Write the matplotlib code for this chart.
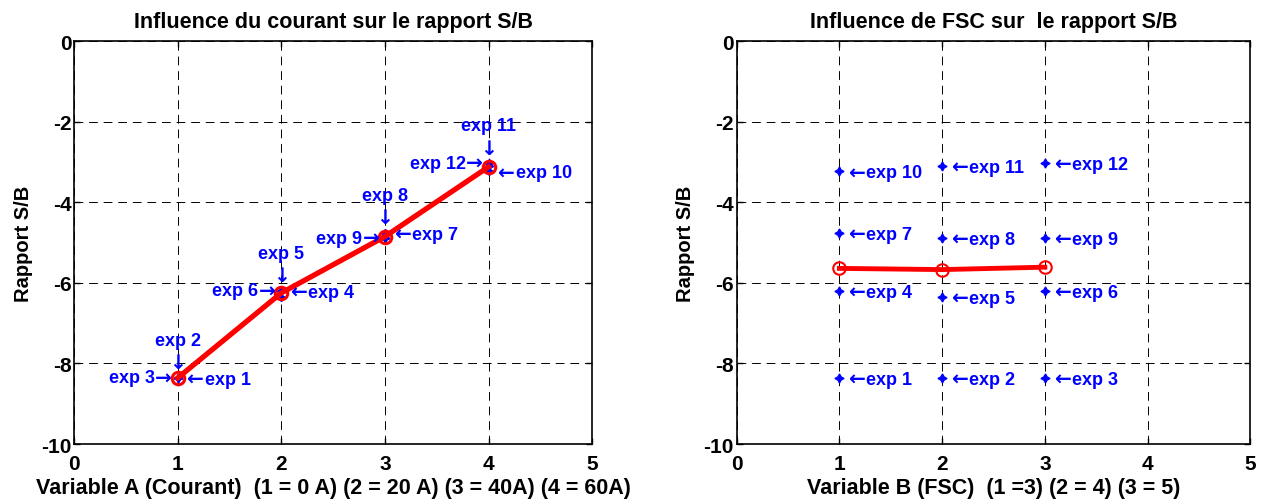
import numpy as np
import matplotlib
matplotlib.use("Agg")
import matplotlib.pyplot as plt

plt.rcParams["axes.unicode_minus"] = False

# --- data ---
exp_names = ["exp %d" % i for i in range(1, 13)]
# variable A level of each experiment (left plot)
a_level = [1, 1, 1, 2, 2, 2, 3, 3, 3, 4, 4, 4]
# variable B level of each experiment (right plot)
b_level = [1, 2, 3, 1, 2, 3, 1, 2, 3, 1, 2, 3]
sb_values = [-8.36, -8.36, -8.36, -6.20, -6.35, -6.20,
             -4.76, -4.89, -4.89, -3.23, -3.10, -3.03]

a_levels = [1, 2, 3, 4]
a_means = [-8.36, -6.25, -4.85, -3.12]
b_levels = [1, 2, 3]
b_means = [-5.64, -5.67, -5.61]

title_a = "Influence du courant sur le rapport S/B"
title_b = "Influence de FSC sur  le rapport S/B"
xlabel_a = "Variable A (Courant)  (1 = 0 A) (2 = 20 A) (3 = 40A) (4 = 60A)"
xlabel_b = "Variable B (FSC)  (1 =3) (2 = 4) (3 = 5)"
ylabel = "Rapport S/B"

font = ["Liberation Sans", "DejaVu Sans"]

fig = plt.figure(figsize=(12.68, 5.02), dpi=100)
ax1 = fig.add_axes([0.0584, 0.1135, 0.4086, 0.8025])
ax2 = fig.add_axes([0.581, 0.1135, 0.405, 0.8025])


def style(ax, title, xlabel):
    ax.set_xlim(0, 5)
    ax.set_ylim(-10, 0)
    ax.set_xticks(range(0, 6))
    ax.set_yticks(range(-10, 1, 2))
    ax.grid(True, color="k", linestyle=(0, (9, 6)), linewidth=0.7)
    ax.tick_params(direction="in", top=True, right=True, length=4, width=1)
    ax.tick_params(axis="x", pad=7)
    ax.tick_params(axis="y", pad=2)
    for lab in ax.get_xticklabels() + ax.get_yticklabels():
        lab.set_family(font)
        lab.set_fontweight("bold")
        lab.set_fontsize(15)
    for s in ax.spines.values():
        s.set_linewidth(1.2)
    ax.set_title(title, family=font, fontweight="bold", fontsize=15.5, pad=10)
    ax.set_xlabel(xlabel, family=font, fontweight="bold", fontsize=15.5, labelpad=3)
    ax.set_ylabel(ylabel, family=font, fontweight="bold", fontsize=14.5, labelpad=6)


lab_kw = dict(color="blue", fontweight="bold", fontsize=13, family=font,
              textcoords="offset points", annotation_clip=False)
arr_kw = dict(color="blue", fontweight="bold", fontsize=14.5, family=["DejaVu Sans"],
              textcoords="offset points", annotation_clip=False)


def label_right(ax, x, y, name, dx=7, dy=-1):
    # "<- exp n" to the right of the point
    ax.annotate("\u2190", (x, y), xytext=(dx, dy), ha="left", va="center", **arr_kw)
    ax.annotate(name, (x, y), xytext=(dx + 12.5, dy), ha="left", va="center", **lab_kw)


def label_left(ax, x, y, name, dx=-4, dy=0):
    # "exp n ->" to the left of the point
    ax.annotate("\u2192", (x, y), xytext=(dx, dy), ha="right", va="center", **arr_kw)
    ax.annotate(name, (x, y), xytext=(dx - 12.5, dy), ha="right", va="center", **lab_kw)


def label_above(ax, x, y, name):
    # "exp n" with a down arrow, above the point
    ax.annotate("\u2193", (x, y), xytext=(0, 4), ha="center", va="bottom", **arr_kw)
    ax.annotate(name, (x, y), xytext=(0, 21), ha="center", va="bottom", **lab_kw)


# left plot
ax1.plot(a_level, sb_values, "b", marker=(4, 1, 0), linestyle="none", markersize=6)
ax1.plot(a_levels, a_means, "r-o", linewidth=3.8, markersize=9,
         markerfacecolor="none", markeredgewidth=2.2)
for i, name in enumerate(exp_names):
    x, y = a_level[i], sb_values[i]
    k = i % 3
    if k == 0:
        label_right(ax1, x, y, name)
    elif k == 1:
        label_above(ax1, x, max(sb_values[i - 1:i + 2]), name)
    else:
        label_left(ax1, x, y, name)
style(ax1, title_a, xlabel_a)

# right plot
ax2.plot(b_level, sb_values, "b", marker=(4, 1, 0), linestyle="none", markersize=6.5)
ax2.plot(b_levels, b_means, "r-o", linewidth=3.5, markersize=9,
         markerfacecolor="none", markeredgewidth=1.5)
for i, name in enumerate(exp_names):
    label_right(ax2, b_level[i], sb_values[i], name)
style(ax2, title_b, xlabel_b)

fig.savefig("out.png", dpi=100)
